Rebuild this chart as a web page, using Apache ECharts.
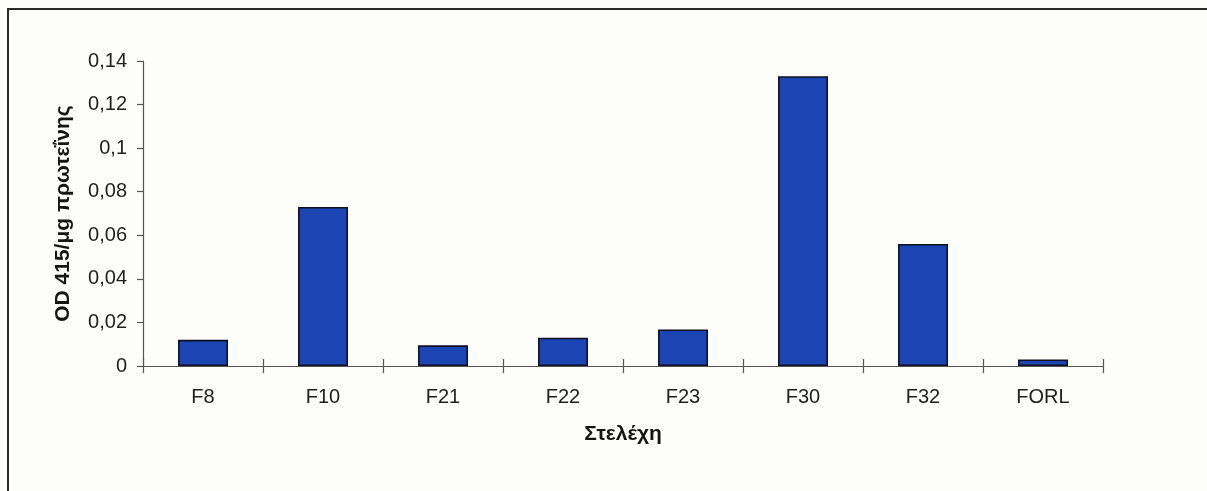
<!DOCTYPE html>
<html>
<head>
<meta charset="utf-8">
<script src="https://cdn.jsdelivr.net/npm/echarts@6/dist/echarts.min.js"></script>
<style>
  html, body { margin: 0; padding: 0; background: #fdfdfb; }
  #chart { width: 1207px; height: 491px; }
</style>
</head>
<body>
<div id="chart"></div>
<script>
// Strains and the measured OD 415 per μg protein
const categories = ['F8', 'F10', 'F21', 'F22', 'F23', 'F30', 'F32', 'FORL'];
const values = [0.012, 0.073, 0.0095, 0.013, 0.0168, 0.133, 0.056, 0.003];
const yTicks = { min: 0, max: 0.14, interval: 0.02 };
const xTitle = 'Στελέχη';
const yTitle = 'OD 415/μg πρωτεΐνης';

const chart = echarts.init(document.getElementById('chart'), null, { renderer: 'canvas' });
const font = '"Liberation Sans", Arial, sans-serif';

chart.setOption({
  backgroundColor: '#fdfdfb',
  animation: false,
  graphic: [{
    type: 'rect',
    shape: { x: 8, y: 9, width: 1220, height: 520 },
    style: { fill: 'none', stroke: '#2a2a2a', lineWidth: 2 },
    silent: true
  }],
  grid: { left: 143, right: 104, top: 61, bottom: 125 },
  xAxis: [{
    type: 'category',
    data: categories,
    position: 'bottom',
    axisLine: { lineStyle: { color: '#555', width: 1.2 } },
    axisTick: { show: true, length: 7, lineStyle: { color: '#555', width: 1.2 } },
    axisLabel: { margin: 21, color: '#1e1e1e', fontSize: 20, fontFamily: font },
    name: xTitle,
    nameLocation: 'middle',
    nameGap: 58,
    nameTextStyle: { fontSize: 21, fontWeight: 'bold', color: '#151515', fontFamily: font }
  }, {
    // inward half of the crossing tick marks
    type: 'category',
    data: categories,
    position: 'bottom',
    axisLine: { show: false },
    axisTick: { show: true, inside: true, length: 7, lineStyle: { color: '#555', width: 1.2 } },
    axisLabel: { show: false }
  }],
  yAxis: {
    type: 'value',
    min: yTicks.min,
    max: yTicks.max,
    interval: yTicks.interval,
    splitLine: { show: false },
    axisLine: { show: true, lineStyle: { color: '#555', width: 1.2 } },
    axisTick: { show: true, length: 6, lineStyle: { color: '#555', width: 1.2 } },
    axisLabel: {
      margin: 16, color: '#1e1e1e', fontSize: 20, fontFamily: font,
      formatter: v => String(Math.round(v * 100) / 100).replace('.', ',')
    },
    name: yTitle,
    nameLocation: 'middle',
    nameGap: 69,
    nameTextStyle: { fontSize: 21, fontWeight: 'bold', color: '#151515', fontFamily: font }
  },
  series: [{
    type: 'bar',
    data: values,
    barWidth: 50,
    itemStyle: { color: '#1c45b4', borderColor: '#101020', borderWidth: 1.6 }
  }]
});
</script>
</body>
</html>
